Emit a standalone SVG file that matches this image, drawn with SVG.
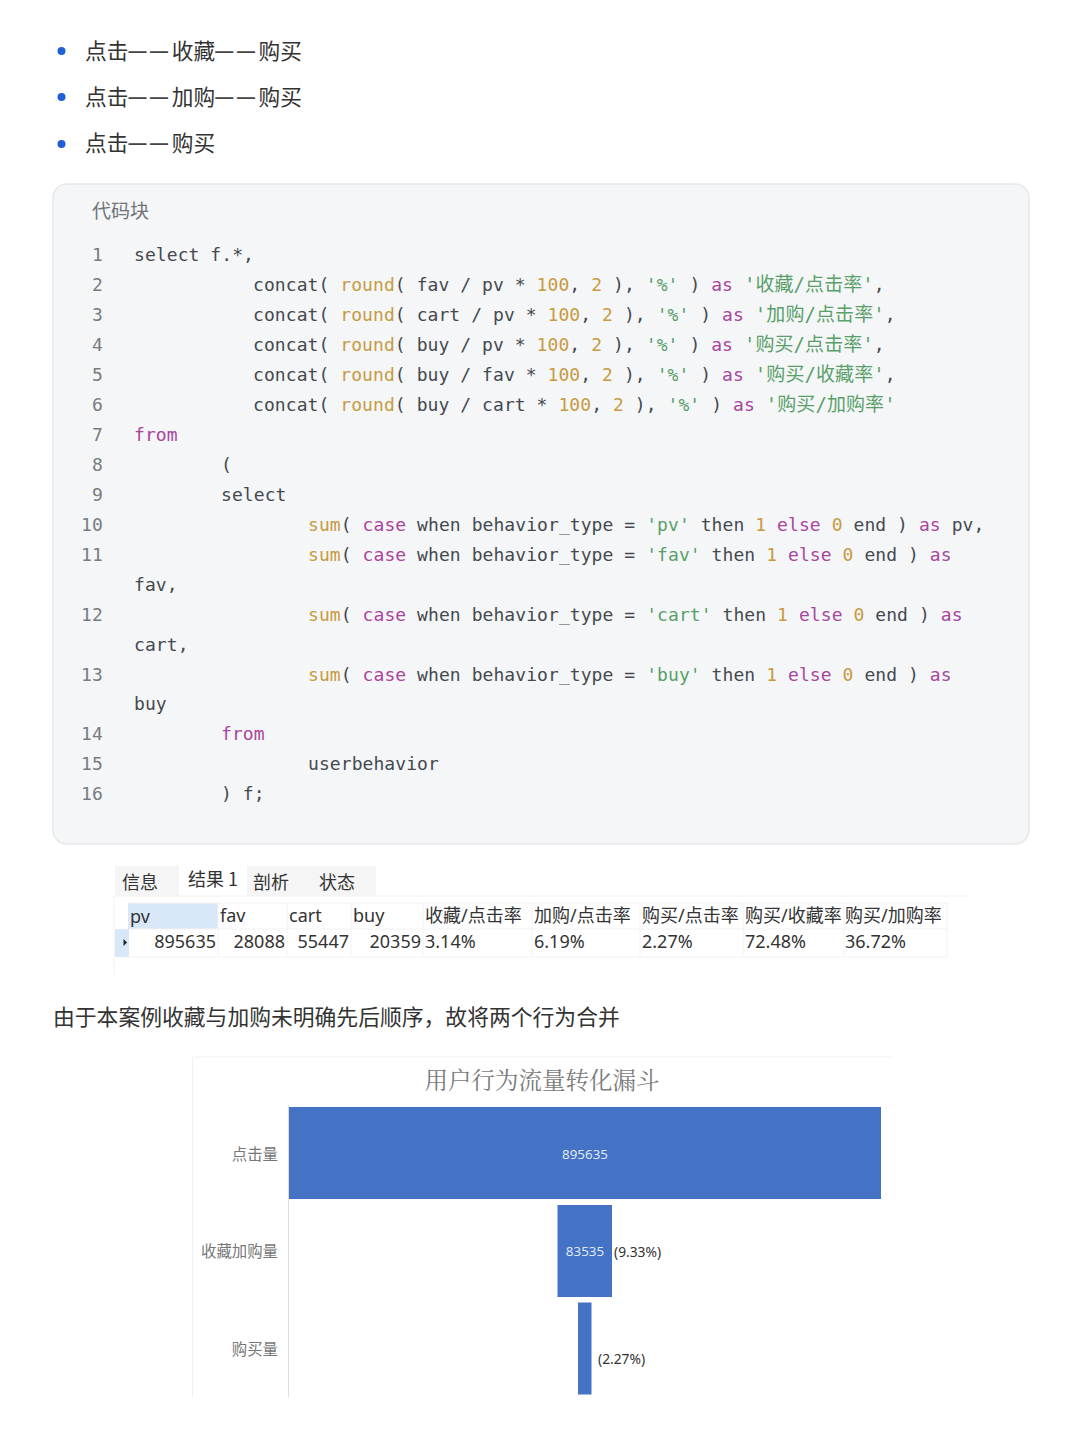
<svg xmlns="http://www.w3.org/2000/svg" width="1080" height="1440" viewBox="0 0 1080 1440">
<style>
text{font-family:"Noto Sans CJK SC","Noto Sans",sans-serif}
.b{font-size:21.700px;fill:#333}
.h{font-size:18px;letter-spacing:3.700px;font-weight:700;fill:#444;font-family:"Liberation Sans",sans-serif}
.c text,.c{font-family:"DejaVu Sans Mono","Noto Sans CJK SC",monospace;font-size:18px;letter-spacing:.07px;fill:#45494f;white-space:pre}
.c .n{fill:#777c81}
.c .k,.k{fill:#a9459f}.f{fill:#c99a3f}.s{fill:#5a9f68}
.z{fill:#5a9f68;font-size:19px}
.t{font-size:18px;fill:#333}
.d{font-family:"Noto Sans","Noto Sans CJK SC",sans-serif;font-size:18px;fill:#333}
.g{stroke:#f2f2f2;stroke-width:1;fill:none}
.l{font-size:15.400px;fill:#777;text-anchor:end}
.v{font-family:"Noto Sans",sans-serif;font-size:13.400px;fill:#dfe8f6;text-anchor:middle}
.p{font-family:"Noto Sans",sans-serif;font-size:13.800px;fill:#333}
</style>
<rect width="1080" height="1440" fill="#fff"/>
<g id="list">
<circle cx="61.500" cy="51" r="4" fill="#1f5fd6"/><circle cx="61.500" cy="97" r="4" fill="#1f5fd6"/><circle cx="61.500" cy="144" r="4" fill="#1f5fd6"/>
<text class="b" x="85" y="59">点击<tspan class="h" dy="-2">——</tspan><tspan dy="2">收藏</tspan><tspan class="h" dy="-2">——</tspan><tspan dy="2">购买</tspan></text>
<text class="b" x="85" y="105">点击<tspan class="h" dy="-2">——</tspan><tspan dy="2">加购</tspan><tspan class="h" dy="-2">——</tspan><tspan dy="2">购买</tspan></text>
<text class="b" x="85" y="151">点击<tspan class="h" dy="-2">——</tspan><tspan dy="2">购买</tspan></text>
</g>
<g id="code-block">
<rect x="53" y="184" width="976" height="660" rx="14" fill="#f4f6f8" stroke="#e6e8ea" stroke-width="1.500"/>
<text x="92" y="218" font-size="19" fill="#6f7478">代码块</text>
<g class="c">
<text class="n" x="92" y="261">1</text><text x="134" y="261">select f.*,</text>
<text class="n" x="92" y="291">2</text><text x="253" y="291">concat( <tspan class="f">round</tspan>( fav / pv * <tspan class="f">100</tspan>, <tspan class="f">2</tspan> ), <tspan class="s">'%'</tspan> ) <tspan class="k">as</tspan> <tspan class="z">'收藏/点击率'</tspan>,</text>
<text class="n" x="92" y="321">3</text><text x="253" y="321">concat( <tspan class="f">round</tspan>( cart / pv * <tspan class="f">100</tspan>, <tspan class="f">2</tspan> ), <tspan class="s">'%'</tspan> ) <tspan class="k">as</tspan> <tspan class="z">'加购/点击率'</tspan>,</text>
<text class="n" x="92" y="351">4</text><text x="253" y="351">concat( <tspan class="f">round</tspan>( buy / pv * <tspan class="f">100</tspan>, <tspan class="f">2</tspan> ), <tspan class="s">'%'</tspan> ) <tspan class="k">as</tspan> <tspan class="z">'购买/点击率'</tspan>,</text>
<text class="n" x="92" y="381">5</text><text x="253" y="381">concat( <tspan class="f">round</tspan>( buy / fav * <tspan class="f">100</tspan>, <tspan class="f">2</tspan> ), <tspan class="s">'%'</tspan> ) <tspan class="k">as</tspan> <tspan class="z">'购买/收藏率'</tspan>,</text>
<text class="n" x="92" y="411">6</text><text x="253" y="411">concat( <tspan class="f">round</tspan>( buy / cart * <tspan class="f">100</tspan>, <tspan class="f">2</tspan> ), <tspan class="s">'%'</tspan> ) <tspan class="k">as</tspan> <tspan class="z">'购买/加购率'</tspan></text>
<text class="n" x="92" y="441">7</text><text class="k" x="134" y="441">from</text>
<text class="n" x="92" y="471">8</text><text x="221" y="471">(</text>
<text class="n" x="92" y="501">9</text><text x="221" y="501">select</text>
<text class="n" x="81" y="531">10</text><text x="308" y="531"><tspan class="f">sum</tspan>( <tspan class="k">case</tspan> when behavior_type = <tspan class="s">'pv'</tspan> then <tspan class="f">1</tspan> <tspan class="k">else</tspan> <tspan class="f">0</tspan> end ) <tspan class="k">as</tspan> pv,</text>
<text class="n" x="81" y="561">11</text><text x="308" y="561"><tspan class="f">sum</tspan>( <tspan class="k">case</tspan> when behavior_type = <tspan class="s">'fav'</tspan> then <tspan class="f">1</tspan> <tspan class="k">else</tspan> <tspan class="f">0</tspan> end ) <tspan class="k">as</tspan></text>
<text x="134" y="591">fav,</text>
<text class="n" x="81" y="621">12</text><text x="308" y="621"><tspan class="f">sum</tspan>( <tspan class="k">case</tspan> when behavior_type = <tspan class="s">'cart'</tspan> then <tspan class="f">1</tspan> <tspan class="k">else</tspan> <tspan class="f">0</tspan> end ) <tspan class="k">as</tspan></text>
<text x="134" y="651">cart,</text>
<text class="n" x="81" y="681">13</text><text x="308" y="681"><tspan class="f">sum</tspan>( <tspan class="k">case</tspan> when behavior_type = <tspan class="s">'buy'</tspan> then <tspan class="f">1</tspan> <tspan class="k">else</tspan> <tspan class="f">0</tspan> end ) <tspan class="k">as</tspan></text>
<text x="134" y="710">buy</text>
<text class="n" x="81" y="740">14</text><text class="k" x="221" y="740">from</text>
<text class="n" x="81" y="770">15</text><text x="308" y="770">userbehavior</text>
<text class="n" x="81" y="800">16</text><text x="221" y="800">) f;</text>
</g>
</g>
<g id="result-table">
<rect x="115" y="866" width="64" height="30" fill="#f5f5f5"/><rect x="247" y="866" width="129" height="30" fill="#f5f5f5"/>
<rect x="128" y="903" width="90" height="26" fill="#d9e8f8"/><rect x="115" y="929" width="14" height="28" fill="#d9e8f8"/>
<path class="g" d="M114 896H968M114 896V975M129 929H947M129 957H947M218 903V957M287 903V957M351 903V957M423 903V957M532 903V957M640 903V957M743 903V957M844 903V957M947 903V957M129 903H947"/>
<path d="M123.500 939l3.500 3.500l-3.500 3.500z" fill="#222"/>
<text class="t" x="122" y="889">信息</text><text class="t" x="188" y="886">结果 1</text><text class="t" x="253" y="889">剖析</text><text class="t" x="319" y="889">状态</text>
<g class="d">
<text class="d" x="130" y="923">pv</text><text class="d" x="220" y="922">fav</text><text class="d" x="289" y="922">cart</text><text class="d" x="353" y="922">buy</text>
<text class="d" x="425" y="922">收藏/点击率</text><text class="d" x="534" y="922">加购/点击率</text><text class="d" x="642" y="922">购买/点击率</text><text class="d" x="745" y="922">购买/收藏率</text><text class="d" x="845" y="922">购买/加购率</text>
<text class="d" x="216" y="948" text-anchor="end">895635</text><text class="d" x="285" y="948" text-anchor="end">28088</text><text class="d" x="349" y="948" text-anchor="end">55447</text><text class="d" x="421" y="948" text-anchor="end">20359</text>
<text class="d" x="425" y="948">3.14%</text><text class="d" x="534" y="948">6.19%</text><text class="d" x="642" y="948">2.27%</text><text class="d" x="745" y="948">72.48%</text><text class="d" x="845" y="948">36.72%</text>
</g>
</g>
<text id="note" x="53" y="1025" font-size="21.800" fill="#333">由于本案例收藏与加购未明确先后顺序，故将两个行为合并</text>
<g id="funnel">
<path class="g" d="M192.500 1057H892M192.500 1057V1397"/>
<path d="M288.500 1105V1397" stroke="#ddd" fill="none"/>
<text x="542" y="1089" font-size="23.500" fill="#7b7b7b" text-anchor="middle" style="font-family:'Noto Serif CJK SC','Noto Sans CJK SC',serif">用户行为流量转化漏斗</text>
<rect x="289" y="1107" width="592" height="92" fill="#4472c4"/>
<rect x="557.500" y="1205" width="54.500" height="92" fill="#4472c4"/>
<rect x="578" y="1302.500" width="13.500" height="92" fill="#4472c4"/>
<text class="l" x="278" y="1160">点击量</text><text class="l" x="278" y="1257">收藏加购量</text><text class="l" x="278" y="1355">购买量</text>
<text class="v" x="585" y="1159">895635</text><text class="v" x="585" y="1256">83535</text>
<text class="p" x="614" y="1257">(9.33%)</text><text class="p" x="598" y="1364">(2.27%)</text>
</g>
</svg>
